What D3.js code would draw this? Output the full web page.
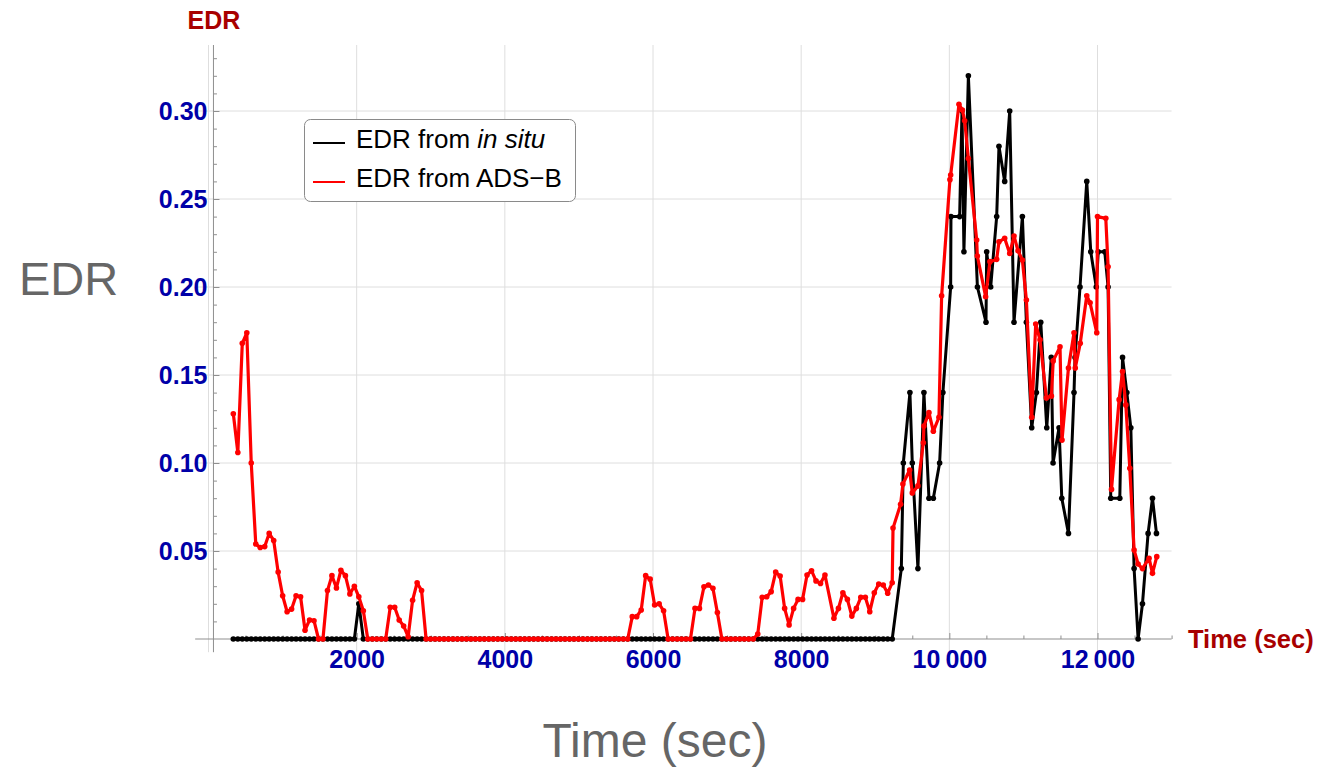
<!DOCTYPE html>
<html><head><meta charset="utf-8">
<script src="https://cdn.jsdelivr.net/npm/d3@7"></script>
<style>
body{margin:0;background:#fff;}
svg{display:block;font-family:"Liberation Sans",Arial,sans-serif;}
</style>
</head><body>
<svg id="chart" width="1323" height="769"></svg>
<script>
// ---------- DATA ----------
// regular sampling part (seconds)
const baseTime = [335,396,456,517,577,638,698,759,819,880,
940,1001,1061,1122,1182,1243,1303,1364,1424,1485,
1545,1606,1666,1727,1787,1848,1908,1969,2029,2090,
2150,2211,2271,2332,2392,2453,2513,2574,2634,2695,
2755,2816,2876,2937,2997,3058,3118,3179,3239,3300,
3360,3421,3481,3542,3602,3663,3723,3784,3844,3905,
3965,4026,4086,4147,4207,4268,4328,4389,4449,4510,
4570,4631,4691,4752,4812,4873,4933,4994,5054,5115,
5175,5236,5296,5357,5417,5478,5538,5599,5659,5720,
5780,5841,5901,5962,6022,6083,6143,6204,6264,6325,
6385,6446,6506,6567,6627,6688,6748,6809,6869,6930,
6990,7051,7111,7172,7232,7293,7353,7414,7474,7535,
7595,7656,7716,7777,7837,7898,7958,8019,8079,8140,
8200,8261,8321,8382,8442,8503,8563,8624,8684,8745,
8805,8866,8926,8987,9047,9108,9168,9229];

const inSituBase = [0,0,0,0,0,0,0,0,0,0,
0,0,0,0,0,0,0,0,0,0,
0,0,0,0,0,0,0,0,0.02,0,
0,0,0,0,0,0,0,0,0,0,
0,0,0,0,0,0,0,0,0,0,
0,0,0,0,0,0,0,0,0,0,
0,0,0,0,0,0,0,0,0,0,
0,0,0,0,0,0,0,0,0,0,
0,0,0,0,0,0,0,0,0,0,
0,0,0,0,0,0,0,0,0,0,
0,0,0,0,0,0,0,0,0,0,
0,0,0,0,0,0,0,0,0,0,
0,0,0,0,0,0,0,0,0,0,
0,0,0,0,0,0,0,0,0,0,
0,0,0,0,0,0,0,0];

const adsbBase = [0.128,0.106,0.168,0.174,0.100,0.054,0.052,0.0525,0.060,0.056,
0.038,0.0246,0.0155,0.017,0.0246,0.024,0.005,0.0108,0.0104,0,
0,0.0275,0.036,0.029,0.039,0.036,0.0256,0.030,0.024,0.016,
0,0,0,0,0,0.018,0.018,0.0108,0.0074,0.0013,
0.022,0.032,0.0275,0,0,0,0,0,0,0,
0,0,0,0,0,0,0,0,0,0,
0,0,0,0,0,0,0,0,0,0,
0,0,0,0,0,0,0,0,0,0,
0,0,0,0,0,0,0,0,0,0.0127,
0.0127,0.0165,0.036,0.034,0.0193,0.020,0.016,0,0,0,
0,0,0,0.0174,0.0174,0.0297,0.0307,0.0288,0.015,0,
0,0,0,0,0,0,0,0.0028,0.0237,0.024,
0.0269,0.038,0.0358,0.0174,0.008,0.0174,0.0225,0.0225,0.0364,0.0388,
0.033,0.0316,0.0364,null,0.0118,0.0174,0.0263,0.0225,0.013,0.0174,
0.0237,0.0237,0.0155,0.0263,0.0312,0.0307,0.026,0.032];

// turbulent part, irregular sampling
const inSituLateTime = [9352,9379,9468,9500,9576,9657,9725,9784,9869,9913,
10018,10022,10139,10171,10197,10257,10379,10495,10504,10558,
10639,10670,10747,10815,10873,10986,11040,11112,11175,11234,
11315,11376,11400,11481,11518,11608,11683,11697,11764,11855,
11909,11983,12010,12098,12143,12179,12301,12338,12396,12450,
12494,12548,12607,12683,12742,12796];
const inSituLate = [0.04,0.10,0.14,0.10,0.04,0.14,0.08,0.08,0.10,0.14,
0.20,0.24,0.24,0.30,0.22,0.32,0.20,0.18,0.22,0.20,
0.24,0.28,0.26,0.30,0.18,0.24,0.18,0.12,0.14,0.18,
0.12,0.16,0.10,0.12,0.08,0.06,0.14,0.16,0.20,0.26,
0.22,0.20,0.22,0.22,0.20,0.08,0.08,0.16,0.14,0.12,
0.04,0,0.02,0.06,0.08,0.06];

const adsbLateTime = [9240,9342,9373,9464,9500,9576,9649,9657,9725,9784,
9860,9896,10008,10018,10130,10176,10207,10257,10369,10378,
10490,10548,10639,10670,10747,10815,10873,10927,10986,11040,
11112,11166,11224,11310,11378,11402,11494,11521,11608,11683,
11700,11767,11855,11900,11990,12000,12112,12143,12189,12292,
12338,12382,12436,12494,12548,12607,12696,12742,12800];
const adsbLate = [0.063,0.0765,0.088,0.096,0.083,0.087,0.1115,0.121,0.1286,0.118,
0.126,0.195,0.261,0.2636,0.3038,0.3006,0.2945,0.273,0.2267,0.2176,
0.1945,0.2144,0.2157,0.2257,0.2277,0.219,0.229,0.2206,0.2153,0.1926,
0.126,0.179,0.170,0.137,0.138,0.158,0.166,0.113,0.154,0.174,
0.154,0.168,0.195,0.191,0.174,0.240,0.239,0.2115,0.085,0.136,
0.152,0.133,0.097,0.0506,0.0426,0.040,0.0459,0.0373,0.0468];

const xTicks = [2000,4000,6000,8000,10000,12000];
const xTickLabels = ["2000","4000","6000","8000","10\u2009000","12\u2009000"];
const xGrid = [0,2000,4000,6000,8000,10000,12000];
const yTicks = [0.05,0.10,0.15,0.20,0.25,0.30];
const yTickLabels = ["0.05","0.10","0.15","0.20","0.25","0.30"];
const seriesNames = ["EDR from ", "EDR from ADS\u2212B"];

// ---------- LAYOUT ----------
const svg = d3.select("#chart");
const x = d3.scaleLinear().domain([0, 12000]).range([208.5, 1097.5]);
const y = d3.scaleLinear().domain([0, 0.30]).range([639, 111]);
const xMin = -180, xMax = 13000, yMin = -0.0075, yMax = 0.3375;
const yAxisAt = 67; // time at which the vertical axis sits

const blue = "#0000a8", darkRed = "#a80000", gray = "#666666";
const axisColor = "#8f8f8f", gridColor = "#dedede";

// grid
const grid = svg.append("g");
grid.selectAll("line.v").data(xGrid).join("line")
  .attr("x1", d => x(d)).attr("x2", d => x(d))
  .attr("y1", y(yMin)).attr("y2", y(yMax))
  .attr("stroke", gridColor).attr("stroke-width", 1);
grid.selectAll("line.h").data(yTicks).join("line")
  .attr("x1", x(xMin)).attr("x2", x(xMax))
  .attr("y1", d => y(d)).attr("y2", d => y(d))
  .attr("stroke", gridColor).attr("stroke-width", 1);

// axes (ticks via d3.axis, drawn inward)
const xMinor = d3.range(0, 13001, 500).filter(v => v % 2000 !== 0);
const yMinor = d3.range(0, 34).map(i => i / 100).filter(v => Math.round(v * 100) % 5 !== 0);

function styleAxis(g) {
  g.select(".domain").remove();
  g.selectAll(".tick line").attr("stroke", axisColor);
}
svg.append("g").attr("transform", `translate(0,${y(0)})`)
  .call(d3.axisBottom(x).tickValues(xMinor).tickSize(-3.5).tickFormat(""))
  .call(styleAxis);
svg.append("g").attr("transform", `translate(0,${y(0)})`)
  .call(d3.axisBottom(x).tickValues(xTicks).tickSize(-6).tickPadding(11)
        .tickFormat((d, i) => xTickLabels[i]))
  .call(styleAxis)
  .selectAll("text").attr("fill", blue).attr("font-size", 25).attr("font-weight", "bold")
  .attr("font-family", '"Liberation Sans",Arial,sans-serif');

svg.append("g").attr("transform", `translate(${x(yAxisAt)},0)`)
  .call(d3.axisLeft(y).tickValues(yMinor).tickSize(-3.5).tickFormat(""))
  .call(styleAxis);
svg.append("g").attr("transform", `translate(${x(yAxisAt)},0)`)
  .call(d3.axisLeft(y).tickValues(yTicks).tickSize(-6).tickPadding(6)
        .tickFormat((d, i) => yTickLabels[i]))
  .call(styleAxis)
  .selectAll("text").attr("fill", blue).attr("font-size", 25).attr("font-weight", "bold")
  .attr("font-family", '"Liberation Sans",Arial,sans-serif');

// axis lines
svg.append("line").attr("x1", x(xMin)).attr("x2", x(xMax)).attr("y1", y(0)).attr("y2", y(0))
  .attr("stroke", axisColor).attr("stroke-width", 1);
svg.append("line").attr("x1", x(yAxisAt)).attr("x2", x(yAxisAt)).attr("y1", y(yMin)).attr("y2", y(yMax))
  .attr("stroke", axisColor).attr("stroke-width", 1);

// ---------- SERIES ----------
function build(times, vals) {
  return times.map((t, i) => ({t, v: vals[i]})).filter(d => d.v !== null);
}
const inSitu = build(baseTime, inSituBase).concat(build(inSituLateTime, inSituLate));
const adsb = build(baseTime, adsbBase).concat(build(adsbLateTime, adsbLate));

const line = d3.line().x(d => x(d.t)).y(d => y(d.v));
function drawSeries(data, color, w) {
  const g = svg.append("g");
  g.append("path").datum(data).attr("d", line)
    .attr("fill", "none").attr("stroke", color).attr("stroke-width", w)
    .attr("stroke-linejoin", "round");
  g.selectAll("circle").data(data).join("circle")
    .attr("cx", d => x(d.t)).attr("cy", d => y(d.v)).attr("r", 2.8).attr("fill", color);
}
drawSeries(inSitu, "#000000", 3);
drawSeries(adsb, "#ff0000", 3.2);

// ---------- LABELS ----------
svg.append("text").attr("x", 214).attr("y", 29).attr("text-anchor", "middle")
  .attr("fill", darkRed).attr("font-size", 25).attr("font-weight", "bold").text("EDR");
svg.append("text").attr("x", 1188).attr("y", 648)
  .attr("fill", darkRed).attr("font-size", 25.5).attr("font-weight", "bold").text("Time (sec)");
svg.append("text").attr("x", 19).attr("y", 295)
  .attr("fill", gray).attr("font-size", 47).text("EDR");
svg.append("text").attr("x", 655).attr("y", 757).attr("text-anchor", "middle")
  .attr("fill", gray).attr("font-size", 48).text("Time (sec)");

// ---------- LEGEND ----------
const lg = svg.append("g");
lg.append("rect").attr("x", 304.5).attr("y", 119.5).attr("width", 271).attr("height", 82)
  .attr("rx", 6).attr("fill", "#fff").attr("stroke", "#8a8a8a").attr("stroke-width", 1);
const legendColors = ["#000000", "#ff0000"];
const legendY = [143, 182];
legendColors.forEach((c, i) => {
  lg.append("line").attr("x1", 313).attr("x2", 345).attr("y1", legendY[i]).attr("y2", legendY[i])
    .attr("stroke", c).attr("stroke-width", 2);
});
const t1 = lg.append("text").attr("x", 356).attr("y", 148).attr("font-size", 26).attr("fill", "#000");
t1.append("tspan").text(seriesNames[0]);
t1.append("tspan").attr("font-style", "italic").text("in situ");
lg.append("text").attr("x", 356).attr("y", 187).attr("font-size", 26).attr("fill", "#000").text(seriesNames[1]);
</script>
</body></html>
